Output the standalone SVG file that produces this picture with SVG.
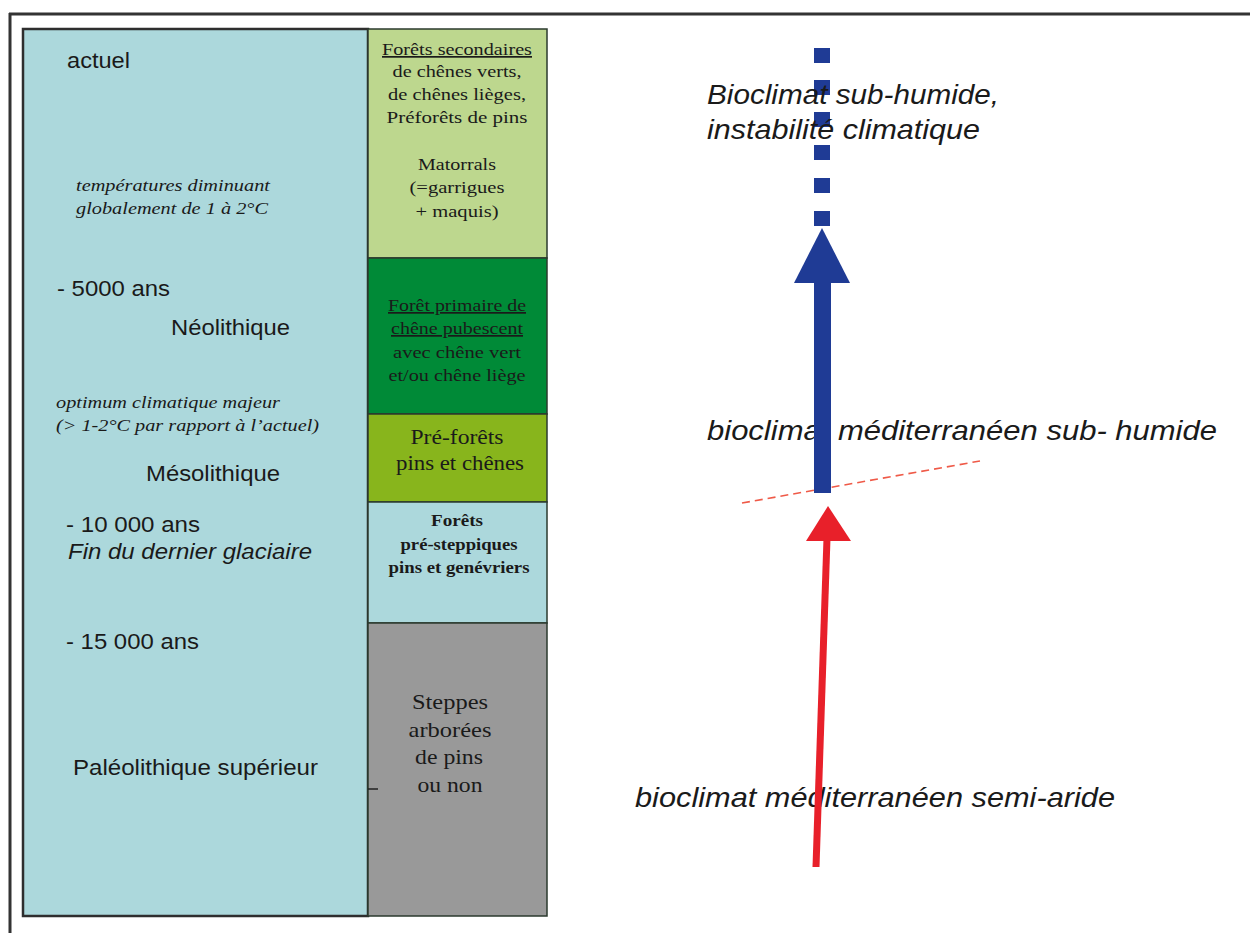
<svg xmlns="http://www.w3.org/2000/svg" width="1250" height="933" viewBox="0 0 1250 933">
<style>
.sans{font-family:"Liberation Sans",Arial,sans-serif;fill:#1a1a1a}
.serif{font-family:"Liberation Serif","Times New Roman",serif;fill:#1a1a1a}
.it{font-style:italic}
.c{text-anchor:middle}
.blk{stroke:#2b3a2e;stroke-width:1.5}
</style>
<rect width="1250" height="933" fill="#ffffff"/>
<g id="frame">
<line x1="9" y1="14" x2="1250" y2="14" stroke="#333" stroke-width="3"/>
<line x1="10" y1="13" x2="10" y2="933" stroke="#333" stroke-width="3"/>
</g>
<g id="timeline">
<rect x="23" y="29" width="345" height="887" fill="#acd8dc" stroke="#2e2e2e" stroke-width="2.5"/>
<text class="sans" x="67" y="68" font-size="22" textLength="63" lengthAdjust="spacingAndGlyphs">actuel</text>
<text class="serif it" x="76" y="191" font-size="17" textLength="194" lengthAdjust="spacingAndGlyphs">températures diminuant</text>
<text class="serif it" x="76" y="214" font-size="17" textLength="192" lengthAdjust="spacingAndGlyphs">globalement de 1 à 2°C</text>
<text class="sans" x="57" y="296" font-size="22" textLength="113" lengthAdjust="spacingAndGlyphs">- 5000 ans</text>
<text class="sans" x="171" y="335" font-size="22" textLength="119" lengthAdjust="spacingAndGlyphs">Néolithique</text>
<text class="serif it" x="56" y="408" font-size="16" textLength="224" lengthAdjust="spacingAndGlyphs">optimum climatique majeur</text>
<text class="serif it" x="56" y="431" font-size="16" textLength="263" lengthAdjust="spacingAndGlyphs">(&gt; 1-2°C par rapport à l’actuel)</text>
<text class="sans" x="146" y="481" font-size="22" textLength="134" lengthAdjust="spacingAndGlyphs">Mésolithique</text>
<text class="sans" x="66" y="532" font-size="22" textLength="134" lengthAdjust="spacingAndGlyphs">- 10 000 ans</text>
<text class="sans it" x="68" y="559" font-size="22" textLength="244" lengthAdjust="spacingAndGlyphs">Fin du dernier glaciaire</text>
<text class="sans" x="66" y="649" font-size="22" textLength="133" lengthAdjust="spacingAndGlyphs">- 15 000 ans</text>
<text class="sans" x="73" y="775" font-size="22" textLength="245" lengthAdjust="spacingAndGlyphs">Paléolithique supérieur</text>
</g>
<g id="veg-secondaires">
<rect class="blk" x="368" y="29" width="179" height="229" fill="#bdd78e"/>
<text class="serif c" x="457" y="55" font-size="17" text-decoration="underline" textLength="150" lengthAdjust="spacingAndGlyphs">Forêts secondaires</text>
<text class="serif c" x="457" y="77" font-size="17" textLength="129" lengthAdjust="spacingAndGlyphs">de chênes verts,</text>
<text class="serif c" x="457" y="100" font-size="17" textLength="138" lengthAdjust="spacingAndGlyphs">de chênes lièges,</text>
<text class="serif c" x="457" y="123" font-size="17" textLength="141" lengthAdjust="spacingAndGlyphs">Préforêts de pins</text>
<text class="serif c" x="457" y="170" font-size="17" textLength="78" lengthAdjust="spacingAndGlyphs">Matorrals</text>
<text class="serif c" x="457" y="193" font-size="17" textLength="95" lengthAdjust="spacingAndGlyphs">(=garrigues</text>
<text class="serif c" x="457" y="217" font-size="17" textLength="83" lengthAdjust="spacingAndGlyphs">+ maquis)</text>
</g>
<g id="veg-primaire">
<rect class="blk" x="368" y="258" width="179" height="156" fill="#008a37"/>
<text class="serif c" x="457" y="311" font-size="17" text-decoration="underline" textLength="138" lengthAdjust="spacingAndGlyphs">Forêt primaire de</text>
<text class="serif c" x="457" y="334" font-size="17" text-decoration="underline" textLength="132" lengthAdjust="spacingAndGlyphs">chêne pubescent</text>
<text class="serif c" x="457" y="358" font-size="17" textLength="128" lengthAdjust="spacingAndGlyphs">avec chêne vert</text>
<text class="serif c" x="457" y="381" font-size="17" textLength="137" lengthAdjust="spacingAndGlyphs">et/ou chêne liège</text>
</g>
<g id="veg-preforets">
<rect class="blk" x="368" y="414" width="179" height="88" fill="#88b51c"/>
<text class="serif c" x="457" y="444" font-size="21" textLength="93" lengthAdjust="spacingAndGlyphs">Pré-forêts</text>
<text class="serif c" x="460" y="470" font-size="21" textLength="128" lengthAdjust="spacingAndGlyphs">pins et chênes</text>
</g>
<g id="veg-presteppiques">
<rect class="blk" x="368" y="502" width="179" height="121" fill="#acd8dc"/>
<text class="serif c" x="457" y="526" font-size="16" font-weight="bold" textLength="52" lengthAdjust="spacingAndGlyphs">Forêts</text>
<text class="serif c" x="459" y="550" font-size="16" font-weight="bold" textLength="117" lengthAdjust="spacingAndGlyphs">pré-steppiques</text>
<text class="serif c" x="459" y="573" font-size="16" font-weight="bold" textLength="141" lengthAdjust="spacingAndGlyphs">pins et genévriers</text>
</g>
<g id="veg-steppes">
<rect class="blk" x="368" y="623" width="179" height="293" fill="#999999"/>
<line x1="368" y1="789" x2="378" y2="789" stroke="#222" stroke-width="1.5"/>
<text class="serif c" x="450" y="709" font-size="21" textLength="76" lengthAdjust="spacingAndGlyphs">Steppes</text>
<text class="serif c" x="450" y="737" font-size="21" textLength="83" lengthAdjust="spacingAndGlyphs">arborées</text>
<text class="serif c" x="449" y="764" font-size="21" textLength="68" lengthAdjust="spacingAndGlyphs">de pins</text>
<text class="serif c" x="450" y="792" font-size="21" textLength="65" lengthAdjust="spacingAndGlyphs">ou non</text>
</g>
<g id="label-semi-aride">
<text class="sans it" x="635" y="807" font-size="28" textLength="480" lengthAdjust="spacingAndGlyphs">bioclimat méditerranéen semi-aride</text>
</g>
<g id="label-sub-humide">
<text class="sans it" x="707" y="440" font-size="28" textLength="510" lengthAdjust="spacingAndGlyphs">bioclimat méditerranéen sub- humide</text>
</g>
<g id="connectors">
<line x1="742" y1="503" x2="980" y2="461" stroke="#ef5a48" stroke-width="1.6" stroke-dasharray="8 5"/>
<polygon points="828,506 806,541 851,541" fill="#e8202a"/>
<line x1="827" y1="538" x2="816" y2="867" stroke="#e8202a" stroke-width="7"/>
<rect x="814" y="282" width="17" height="211" fill="#1f3b95"/>
<polygon points="822,228 794,283 850,283" fill="#1f3b95"/>
<g fill="#1f3b95">
<rect x="814" y="48" width="16" height="15"/>
<rect x="814" y="80" width="16" height="15"/>
<rect x="814" y="112" width="16" height="15"/>
<rect x="814" y="145" width="16" height="15"/>
<rect x="814" y="178" width="16" height="15"/>
<rect x="814" y="211" width="16" height="15"/>
</g>
</g>
<g id="label-instabilite">
<text class="sans it" x="707" y="104" font-size="28" textLength="292" lengthAdjust="spacingAndGlyphs">Bioclimat sub-humide,</text>
<text class="sans it" x="707" y="139" font-size="28" textLength="273" lengthAdjust="spacingAndGlyphs">instabilité climatique</text>
</g>
</svg>
